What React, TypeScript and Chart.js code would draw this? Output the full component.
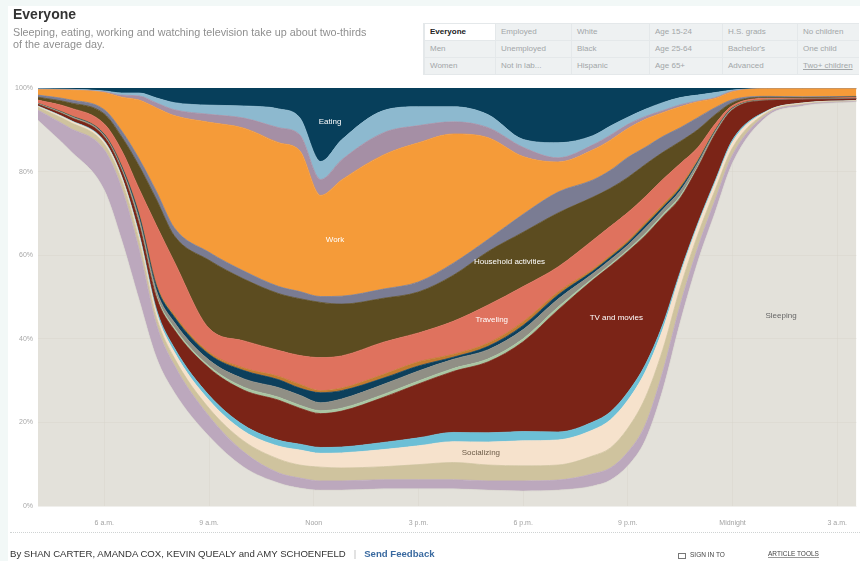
import React, { useEffect, useRef } from 'react';
import { Chart, registerables } from 'chart.js';

Chart.register(...registerables);

// Time of day in hours (4.1 = about 4 a.m., 24 = midnight, 27.55 = about 3:30 a.m.)
const hours = [4.1, 5, 6, 6.5, 7, 7.5, 8, 9, 10, 11, 11.6, 12.2, 12.8, 14, 15, 16, 17, 18, 19, 20, 20.5, 21, 21.5, 22, 22.5, 23, 23.5, 24, 25, 26, 27.55];

// Share of people (%) doing each activity, bottom layer first
const sleeping = [92.3, 85.2, 75.6, 63.6, 49.3, 35.4, 27.3, 16.7, 9.3, 5.5, 4.3, 3.8, 3.8, 4.1, 4.1, 4.1, 3.8, 3.6, 3.8, 4.8, 6.2, 9.6, 15.8, 27.8, 44.0, 58.4, 70.3, 82.1, 93.3, 95.7, 96.7];
const personalCare = [2.4, 5.3, 9.6, 12.4, 12.0, 7.9, 6.5, 4.8, 3.6, 2.4, 2.4, 2.2, 2.2, 2.2, 2.2, 2.2, 2.2, 2.4, 2.4, 2.9, 2.9, 3.3, 3.6, 4.3, 4.1, 3.3, 2.9, 1.9, 0.5, 0.3, 0.1];
const relaxing = [0.7, 1.4, 1.4, 1.9, 2.2, 1.7, 1.7, 1.9, 2.6, 3.3, 3.1, 3.3, 3.1, 3.1, 3.6, 4.1, 3.8, 3.6, 3.6, 4.3, 4.8, 5.7, 6.5, 5.3, 4.1, 3.1, 2.4, 1.7, 0.4, 0.2, 0.1];
const socializing = [0.2, 0.4, 0.5, 0.7, 1.0, 1.2, 1.4, 1.9, 2.4, 3.1, 3.6, 3.3, 3.6, 4.1, 4.5, 5.0, 5.5, 6.0, 6.0, 6.2, 6.7, 6.7, 6.2, 4.8, 3.1, 2.2, 1.7, 1.4, 0.3, 0.2, 0.1];
const sports = [0.1, 0.1, 0.2, 0.2, 0.5, 0.7, 1.0, 1.2, 1.4, 1.4, 1.4, 1.4, 1.4, 1.7, 1.9, 2.2, 2.2, 2.2, 1.9, 1.9, 1.9, 1.9, 1.7, 1.2, 0.7, 0.5, 0.5, 0.5, 0.1, 0, 0];
const tvMovies = [0.4, 0.7, 1.0, 1.4, 2.4, 2.9, 4.3, 6.5, 8.4, 9.6, 8.6, 8.1, 8.6, 10.8, 12.9, 14.6, 17.0, 21.5, 29.2, 34.0, 34.9, 33.7, 30.9, 25.8, 17.7, 13.4, 11.2, 7.2, 2.4, 0.8, 0.4];
const computer = [0.1, 0.1, 0.1, 0.2, 0.4, 0.5, 0.5, 0.5, 0.7, 0.7, 0.7, 0.7, 0.7, 0.7, 0.7, 0.7, 0.7, 0.7, 0.7, 0.4, 0.4, 0.4, 0.5, 0.5, 0.5, 0.3, 0.2, 0.1, 0, 0, 0];
const shopping = [0.1, 0.2, 0.3, 0.4, 0.9, 1.1, 1.3, 1.4, 2.0, 2.3, 2.4, 1.9, 2.2, 2.4, 2.4, 2.2, 2.2, 2.2, 1.9, 1.1, 1.1, 1.1, 1.3, 1.2, 1.2, 0.8, 0.4, 0.2, 0.1, 0.1, 0.1];
const education = [0, 0.1, 0.2, 0.4, 0.8, 1.1, 1.3, 1.4, 2.0, 1.9, 1.7, 2.4, 2.0, 1.5, 1.2, 0.5, 0.8, 1.0, 1.0, 0.6, 0.6, 0.6, 0.7, 0.6, 0.6, 0.4, 0.2, 0.1, 0, 0, 0];
const phone = [0, 0.1, 0.1, 0.2, 0.3, 0.4, 0.5, 0.5, 0.6, 0.8, 0.9, 0.5, 0.6, 0.9, 1.0, 0.7, 0.8, 0.9, 0.7, 0.5, 0.5, 0.5, 0.6, 0.6, 0.6, 0.4, 0.2, 0.1, 0.1, 0, 0];
const traveling = [0.8, 1.7, 2.4, 3.6, 6.0, 14.1, 12.7, 5.7, 6.5, 6.2, 6.9, 7.9, 7.7, 7.7, 6.9, 7.9, 9.1, 8.4, 6.0, 6.9, 6.9, 6.7, 6.2, 6.0, 5.3, 2.9, 1.4, 0.5, 0.3, 0.2, 0.2];
const household = [0.7, 1.2, 2.4, 3.3, 5.5, 6.2, 6.2, 16.3, 14.8, 13.6, 13.6, 13.2, 12.4, 10.5, 9.8, 11.0, 12.8, 13.0, 12.9, 10.3, 9.1, 8.4, 7.7, 6.5, 5.3, 4.3, 2.2, 0.7, 0.3, 0.2, 0.2];
const caring = [0.5, 0.7, 1.0, 1.4, 1.7, 1.9, 1.9, 1.9, 1.9, 1.7, 1.7, 1.4, 1.9, 2.2, 2.4, 2.9, 2.9, 4.3, 5.0, 4.1, 4.3, 4.8, 4.1, 3.8, 3.3, 2.9, 1.7, 0.7, 0.2, 0.2, 0.1];
const work = [1.3, 2.3, 4.1, 8.1, 14.1, 20.1, 26.8, 31.1, 34.2, 34.4, 33.7, 24.2, 27.8, 32.1, 33.3, 30.9, 24.3, 13.8, 7.2, 7.2, 7.2, 6.9, 6.7, 5.7, 5.0, 3.8, 2.2, 1.9, 1.8, 1.9, 1.8];
const workRelated = [0.1, 0.1, 0.2, 0.5, 1.0, 1.2, 1.4, 1.9, 2.4, 3.6, 3.8, 3.8, 4.8, 5.3, 4.1, 2.9, 2.4, 2.2, 1.0, 1.2, 1.2, 1.0, 0.7, 0.5, 0.5, 0.2, 0.2, 0.2, 0, 0, 0];
const foodPrep = [0.1, 0.1, 0.2, 0.5, 0.7, 1.2, 1.7, 2.2, 2.9, 4.5, 4.1, 4.3, 4.8, 5.3, 4.5, 3.6, 3.1, 1.9, 3.6, 2.2, 2.2, 1.7, 1.7, 1.9, 1.7, 1.4, 1.2, 0.2, 0, 0, 0];
const eating = [0.2, 0.3, 0.7, 1.2, 1.2, 2.4, 3.5, 4.1, 4.3, 5.0, 7.1, 17.6, 12.4, 5.4, 4.5, 4.5, 6.4, 12.3, 13.1, 11.4, 9.1, 7.0, 5.1, 3.5, 2.3, 1.7, 1.1, 0.5, 0.2, 0.2, 0.2];

const tickHours = [6, 9, 12, 15, 18, 21, 24, 27];
const tickLabels = ['6 a.m.', '9 a.m.', 'Noon', '3 p.m.', '6 p.m.', '9 p.m.', 'Midnight', '3 a.m.'];

const buttonRows = [
  ['Everyone', 'Employed', 'White', 'Age 15-24', 'H.S. grads', 'No children'],
  ['Men', 'Unemployed', 'Black', 'Age 25-64', "Bachelor's", 'One child'],
  ['Women', 'Not in lab...', 'Hispanic', 'Age 65+', 'Advanced', 'Two+ children'],
];
const buttonColLefts = [425, 496, 572, 650, 723, 798];
const buttonColWidths = [71, 76, 78, 73, 75, 62];

const FONT = "Arial, 'Liberation Sans', Helvetica, sans-serif";

const layers = [
  { label: 'Sleeping', values: sleeping, color: 'rgba(214,211,201,0.68)' },
  { label: 'Personal care', values: personalCare, color: '#bca8bd' },
  { label: 'Relaxing and thinking', values: relaxing, color: '#cfc39e' },
  { label: 'Socializing', values: socializing, color: '#f6e2cc' },
  { label: 'Sports and exercise', values: sports, color: '#6cbfd6' },
  { label: 'TV and movies', values: tvMovies, color: '#7b2417' },
  { label: 'Computer use', values: computer, color: '#aac6a3' },
  { label: 'Shopping', values: shopping, color: '#908f85' },
  { label: 'Education', values: education, color: '#0c3f5c' },
  { label: 'Phone, mail and e-mail', values: phone, color: '#c27b30' },
  { label: 'Traveling', values: traveling, color: '#df725e' },
  { label: 'Household activities', values: household, color: '#5c4c20' },
  { label: 'Caring for others', values: caring, color: '#7a7c93' },
  { label: 'Work', values: work, color: '#f59b39' },
  { label: 'Work-related', values: workRelated, color: '#a58fa5' },
  { label: 'Food preparation', values: foodPrep, color: '#8db9cf' },
  { label: 'Eating', values: eating, color: '#073f5b' },
];

const annotations = [
  { text: 'Eating', hour: 12.47, pct: 91.9, color: '#ffffff' },
  { text: 'Work', hour: 12.61, pct: 63.6, color: '#ffffff' },
  { text: 'Household activities', hour: 17.61, pct: 58.4, color: '#ffffff' },
  { text: 'Traveling', hour: 17.1, pct: 44.5, color: '#ffffff' },
  { text: 'TV and movies', hour: 20.67, pct: 45.0, color: '#ffffff' },
  { text: 'Socializing', hour: 16.79, pct: 12.7, color: '#6d5c48' },
  { text: 'Sleeping', hour: 25.39, pct: 45.5, color: '#666666' },
];

const labelPlugin = {
  id: 'areaLabels',
  afterDatasetsDraw(chart: any) {
    const { ctx, scales } = chart;
    ctx.save();
    ctx.font = `8px ${FONT}`;
    ctx.textAlign = 'center';
    ctx.textBaseline = 'middle';
    annotations.forEach((a) => {
      ctx.fillStyle = a.color;
      ctx.fillText(a.text, scales.x.getPixelForValue(a.hour), scales.y.getPixelForValue(a.pct));
    });
    ctx.restore();
  },
};

export default function App() {
  const canvasRef = useRef<HTMLCanvasElement | null>(null);

  useEffect(() => {
    document.body.style.margin = '0';
    document.body.style.background = '#f2f8f7';
    const canvas = canvasRef.current;
    if (!canvas) return;
    const gridColor = 'rgba(185,181,170,0.22)';
    const chart = new Chart(canvas, {
      type: 'line',
      data: {
        datasets: layers.map((l, i) => ({
          label: l.label,
          data: hours.map((h, j) => ({ x: h, y: l.values[j] })),
          backgroundColor: l.color,
          borderColor: l.color,
          borderWidth: 0.75,
          fill: i === 0 ? 'origin' : '-1',
          pointRadius: 0,
          cubicInterpolationMode: 'monotone' as const,
        })),
      },
      options: {
        animation: false,
        responsive: false,
        maintainAspectRatio: false,
        layout: { padding: { top: 88, right: 1, left: 0, bottom: 0 } },
        plugins: { legend: { display: false }, tooltip: { enabled: false } },
        scales: {
          x: {
            type: 'linear',
            min: 4.1,
            max: 27.55,
            border: { display: false },
            grid: { color: gridColor, drawTicks: false },
            afterBuildTicks: (s: any) => {
              s.ticks = tickHours.map((v) => ({ value: v }));
            },
            afterFit: (s: any) => {
              s.height = 55;
            },
            ticks: {
              autoSkip: false,
              maxRotation: 0,
              padding: 13,
              color: '#a3a3a3',
              font: { size: 7, family: FONT },
              callback: (_v: any, idx: number) => tickLabels[idx],
            },
          },
          y: {
            stacked: true,
            min: 0,
            max: 100,
            border: { display: false },
            grid: { color: gridColor, drawTicks: false },
            afterFit: (s: any) => {
              s.width = 38;
            },
            ticks: {
              stepSize: 20,
              padding: 5,
              color: '#a8a8a8',
              font: { size: 7, family: FONT },
              callback: (v: any) => `${v}%`,
            },
          },
        },
      },
      plugins: [labelPlugin],
    } as any);
    return () => chart.destroy();
  }, []);

  return (
    <div style={{ position: 'relative', width: 860, height: 561, overflow: 'hidden', fontFamily: FONT }}>
      <div style={{ position: 'absolute', left: 8, top: 6, right: 0, bottom: 0, background: '#ffffff' }} />
      <canvas ref={canvasRef} width={860} height={561} style={{ position: 'absolute', left: 0, top: 0, width: 860, height: 561 }} />
      <div style={{ position: 'absolute', left: 13, top: 6, fontSize: 14, fontWeight: 'bold', color: '#333' }}>Everyone</div>
      <div style={{ position: 'absolute', left: 13, top: 26, fontSize: 10.8, lineHeight: '12px', color: '#8f8f8f', width: 420 }}>
        Sleeping, eating, working and watching television take up about two-thirds
        <br />
        of the average day.
      </div>
      <div style={{ position: 'absolute', left: 423, top: 23, width: 436, height: 52, background: '#e4e8ea' }} />
      {buttonRows.map((row, r) =>
        row.map((label, c) => {
          const active = r === 0 && c === 0;
          const underline = r === 2 && c === 5;
          return (
            <div
              key={`${r}-${c}`}
              style={{
                position: 'absolute',
                left: buttonColLefts[c],
                top: 24 + r * 17,
                width: buttonColWidths[c] - 1,
                height: 16,
                background: active ? '#ffffff' : '#eef1f2',
                color: active ? '#222' : '#a2a6a8',
                fontWeight: active ? 'bold' : 'normal',
                fontSize: 8,
                lineHeight: '16px',
                paddingLeft: 5,
                boxSizing: 'border-box',
                whiteSpace: 'nowrap',
                overflow: 'hidden',
                textDecoration: underline ? 'underline' : 'none',
              }}
            >
              {label}
            </div>
          );
        })
      )}
      <div style={{ position: 'absolute', left: 10, right: 0, top: 532, borderTop: '1px dotted #cfd3d3' }} />
      <div style={{ position: 'absolute', left: 10, top: 548, fontSize: 9.6, color: '#333', whiteSpace: 'nowrap' }}>
        By SHAN CARTER, AMANDA COX, KEVIN QUEALY and AMY SCHOENFELD
        <span style={{ color: '#bbb', margin: '0 8px' }}>|</span>
        <span style={{ color: '#3a6aa0', fontWeight: 'bold' }}>Send Feedback</span>
      </div>
      <div style={{ position: 'absolute', left: 678, top: 553, width: 8, height: 6, border: '1px solid #777', boxSizing: 'border-box' }} />
      <div style={{ position: 'absolute', left: 690, top: 551, fontSize: 6.5, color: '#444', whiteSpace: 'nowrap' }}>SIGN IN TO</div>
      <div style={{ position: 'absolute', left: 768, top: 550, fontSize: 6.5, color: '#444', whiteSpace: 'nowrap', borderBottom: '1px solid #999' }}>ARTICLE TOOLS</div>
    </div>
  );
}
